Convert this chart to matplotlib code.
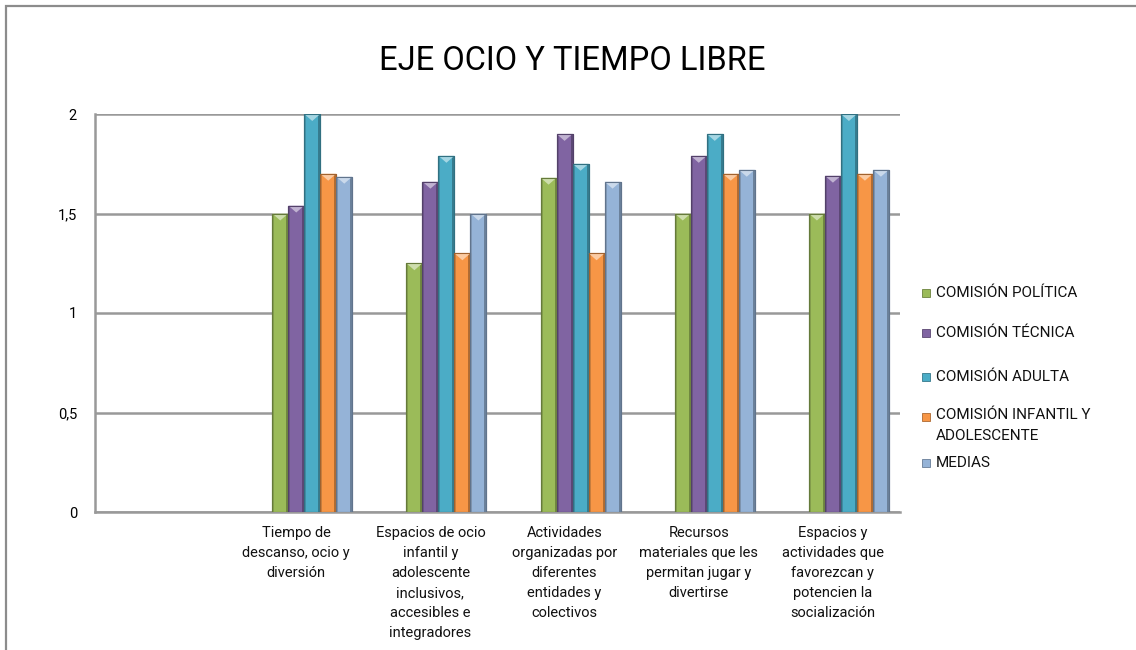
import numpy as np
import matplotlib
matplotlib.use("Agg")
import matplotlib.pyplot as plt
from matplotlib.patches import Polygon, Rectangle
import matplotlib.colors as mcolors

plt.rcParams['font.family'] = ['Roboto', 'DejaVu Sans']

# ---------------- data ----------------
categories = [
    "",
    "Tiempo de\ndescanso, ocio y\ndiversión",
    "Espacios de ocio\ninfantil y\nadolescente\ninclusivos,\naccesibles e\nintegradores",
    "Actividades\norganizadas por\ndiferentes\nentidades y\ncolectivos",
    "Recursos\nmateriales que les\npermitan jugar y\ndivertirse",
    "Espacios y\nactividades que\nfavorezcan y\npotencien la\nsocialización",
]
series_names = ["COMISIÓN POLÍTICA", "COMISIÓN TÉCNICA", "COMISIÓN ADULTA",
                "COMISIÓN INFANTIL Y\nADOLESCENTE", "MEDIAS"]
politica = [np.nan, 1.50, 1.25, 1.68, 1.50, 1.50]
tecnica = [np.nan, 1.54, 1.66, 1.90, 1.79, 1.69]
adulta = [np.nan, 2.00, 1.79, 1.75, 1.90, 2.00]
infantil = [np.nan, 1.70, 1.30, 1.30, 1.70, 1.70]
medias = [np.nan, 1.685, 1.50, 1.66, 1.72, 1.72]
series_values = [politica, tecnica, adulta, infantil, medias]
colors = ["#9BBB59", "#8064A2", "#4BACC6", "#F79646", "#95B3D7"]
yticks = [0, 0.5, 1, 1.5, 2]
ytick_labels = ["0", "0,5", "1", "1,5", "2"]

# ---------------- figure ----------------
W, H = 1136, 650
fig = plt.figure(figsize=(W / 100, H / 100), dpi=100)
fig.patch.set_facecolor("white")

# outer chart frame (only top/left visible)
fig.patches.append(Rectangle((6 / W, -0.1), 1.2, (H - 6) / H + 0.1,
                             transform=fig.transFigure, fill=False,
                             edgecolor="#8c8c8c", linewidth=1.6, zorder=0))

ax_l, ax_r, ax_t, ax_b = 95, 900, 114, 512
ax = fig.add_axes([ax_l / W, (H - ax_b) / H, (ax_r - ax_l) / W, (ax_b - ax_t) / H])
ax.set_xlim(-0.5, len(categories) - 0.5)
ax.set_ylim(0, 2)

for s in ["top", "right"]:
    ax.spines[s].set_visible(False)
for s in ["left", "bottom"]:
    ax.spines[s].set_color("#999999")
    ax.spines[s].set_linewidth(1.8)
ax.set_yticks(yticks)
ax.set_yticklabels(ytick_labels, fontsize=10.5)
ax.tick_params(axis="y", length=0, pad=13)
ax.set_xticks(range(len(categories)))
ax.set_xticklabels(categories, fontsize=10.5, linespacing=1.55, color="#111111")
ax.tick_params(axis="x", length=0, pad=10)
ax.grid(axis="y", color="#999999", linewidth=1.8)
ax.set_axisbelow(True)

# bars
px_x = (ax_r - ax_l) / len(categories)       # px per category
bw = 16 / px_x                                 # bar width in data units
shift = 16 / px_x                              # group offset to the right
dy_px = 2 / (ax_b - ax_t)                       # data units per px (y)
n = len(series_values)


def shade(c, f):
    r, g, b = mcolors.to_rgb(c)
    if f < 1:
        return (r * f, g * f, b * f)
    f = f - 1
    return (r + (1 - r) * f, g + (1 - g) * f, b + (1 - b) * f)


for i, (vals, col) in enumerate(zip(series_values, colors)):
    xs = np.arange(len(categories)) + shift + (i - (n - 1) / 2) * bw
    for x, v in zip(xs, vals):
        if np.isnan(v):
            continue
        # soft shadow
        ax.add_patch(Rectangle((x - bw / 2 + 0.004, 0), bw, v - 2 * dy_px,
                               facecolor="#000000", alpha=0.12, linewidth=0, zorder=2))
        # body
        ax.add_patch(Rectangle((x - bw / 2, 0), bw, v, facecolor=col,
                               edgecolor=shade(col, 0.7), linewidth=0.8, zorder=3))
        # side bevels
        sw = bw * 0.13
        ax.add_patch(Rectangle((x - bw / 2, 0), sw, v, facecolor=shade(col, 0.85),
                               linewidth=0, zorder=4))
        ax.add_patch(Rectangle((x + bw / 2 - sw, 0), sw, v, facecolor=shade(col, 0.72),
                               linewidth=0, zorder=4))
        # top bevel triangle
        tri_h = 7 * dy_px
        ax.add_patch(Polygon([(x - bw / 2, v), (x + bw / 2, v), (x, v - tri_h)],
                             closed=True, facecolor=shade(col, 1.5),
                             edgecolor="none", zorder=5))
        ax.add_patch(Rectangle((x - bw / 2, 0), bw, v, facecolor="none",
                               edgecolor=shade(col, 0.65), linewidth=0.8, zorder=6))

# title
fig.text(572 / W, (H - 70) / H, "EJE OCIO Y TIEMPO LIBRE", ha="center",
         va="baseline", fontsize=23.5, color="black")

# legend (manual)
leg_y = [293, 333, 377, 417, 463]
for name, col, yc in zip(series_names, colors, leg_y):
    sq = 8
    fig.patches.append(Rectangle((922 / W, (H - yc - sq / 2) / H), sq / W, sq / H,
                                 transform=fig.transFigure, facecolor=col,
                                 edgecolor=shade(col, 0.7), linewidth=0.6))
    if "\n" in name:
        fig.text(936 / W, (H - yc + 9) / H, name, ha="left", va="top",
                 fontsize=11, color="#111111", linespacing=1.65)
    else:
        fig.text(936 / W, (H - yc) / H, name, ha="left", va="center",
                 fontsize=11, color="#111111")

fig.savefig("out.png", dpi=100)
